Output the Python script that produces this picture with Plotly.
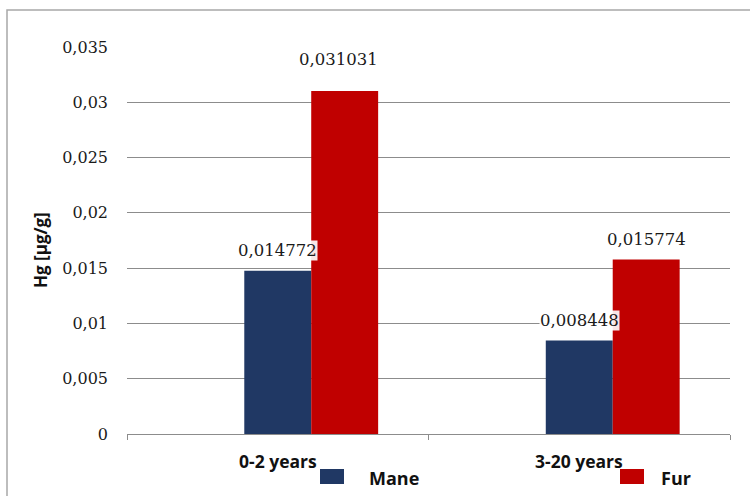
import plotly.graph_objects as go

# Mercury content by age group
categories = ["0-2 years", "3-20 years"]
mane_values = [0.014772, 0.008448]
fur_values = [0.031031, 0.015774]
series_names = ["Mane", "Fur"]
ytick_vals = [0, 0.005, 0.01, 0.015, 0.02, 0.025, 0.03, 0.035]
ytick_text = ["0", "0,005", "0,01", "0,015", "0,02", "0,025", "0,03", "0,035"]

MANE_COLOR = "#203864"
FUR_COLOR = "#C00000"
GRID_COLOR = "#8c8c8c"
BAR_W = 0.222

W, H = 750, 496
ML, MR, MT, MB = 127, 20, 47, 62
PW, PH = W - ML - MR, H - MT - MB


def px_x(px):
    return (px - ML) / PW


def px_y(py):
    return (H - MB - py) / PH


def fmt(v):
    return f"{v:.6f}".replace(".", ",")


pos = list(range(len(categories)))
mane_x = [p for p in pos]
fur_x = [p + BAR_W for p in pos]

fig = go.Figure()
fig.add_trace(go.Bar(x=mane_x, y=mane_values, width=BAR_W, name=series_names[0],
                     marker=dict(color=MANE_COLOR, line=dict(width=0))))
fig.add_trace(go.Bar(x=fur_x, y=fur_values, width=BAR_W, name=series_names[1],
                     marker=dict(color=FUR_COLOR, line=dict(width=0))))

label_font = dict(family="DejaVu Serif", size=16.5, color="#1a1a1a")
annotations = []
# value labels above bars (one nudged to avoid overlap)
nudges = {(0, 1): (-6, 31)}
for si, (xs, vals) in enumerate([(mane_x, mane_values), (fur_x, fur_values)]):
    for ci, (x, v) in enumerate(zip(xs, vals)):
        dx, dy = nudges.get((ci, si), (0, 20))
        annotations.append(dict(x=x, y=v, xref="x", yref="y", text=fmt(v),
                                showarrow=False, xanchor="center", yanchor="middle",
                                xshift=dx, yshift=dy, font=label_font, borderpad=0,
                                bgcolor="rgba(255,255,255,0.9)"))

cat_font = dict(family="Open Sans", size=17.5, color="#111111")
for p, c in zip(pos, categories):
    annotations.append(dict(x=p, y=px_y(461), xref="x", yref="paper", text=f"<b>{c}</b>",
                            showarrow=False, xanchor="center", yanchor="middle", font=cat_font))

# legend entries
shapes = []
legend_items = [(series_names[0], MANE_COLOR, 320, 367), (series_names[1], FUR_COLOR, 620, 659)]
for name, color, sx, tx in legend_items:
    shapes.append(dict(type="rect", xref="paper", yref="paper",
                       x0=px_x(sx), x1=px_x(sx + 24), y0=px_y(484), y1=px_y(469),
                       fillcolor=color, line=dict(width=0), layer="above"))
    annotations.append(dict(x=px_x(tx), y=px_y(478), xref="paper", yref="paper",
                            text=f"<b>{name}</b>", showarrow=False, xanchor="left",
                            yanchor="middle", font=dict(family="Open Sans", size=18,
                                                        color="#111111")))

# y-axis title
annotations.append(dict(x=px_x(40), y=px_y(250), xref="paper", yref="paper",
                        text="<b>Hg [µg/g]</b>", textangle=-90, showarrow=False,
                        xanchor="center", yanchor="middle",
                        font=dict(family="Open Sans", size=17, color="#111111")))

# chart frame
shapes.append(dict(type="rect", xref="paper", yref="paper",
                   x0=px_x(7), x1=px_x(770), y0=px_y(520), y1=px_y(10),
                   line=dict(color="#a8a8a8", width=1.5), fillcolor="rgba(0,0,0,0)",
                   layer="below"))

fig.update_layout(
    width=W, height=H,
    margin=dict(l=ML, r=MR, t=MT, b=MB, pad=0),
    paper_bgcolor="white", plot_bgcolor="white",
    showlegend=False,
    annotations=annotations,
    shapes=shapes,
    xaxis=dict(range=[-0.5, 1.5], tickvals=[-0.5, 0.5, 1.5], ticktext=["", "", ""],
               ticks="outside", ticklen=5, tickcolor=GRID_COLOR, tickwidth=1,
               showline=True, linecolor=GRID_COLOR, linewidth=1,
               showgrid=False, zeroline=False, fixedrange=True),
    yaxis=dict(range=[0, 0.035], tickvals=ytick_vals, ticktext=ytick_text,
               showgrid=True, gridcolor=GRID_COLOR, gridwidth=1,
               zeroline=False, showline=False, ticks="",
               ticklabelstandoff=18,
               tickfont=dict(family="DejaVu Serif", size=16, color="#1a1a1a")),
)

fig.write_html("out.html")
